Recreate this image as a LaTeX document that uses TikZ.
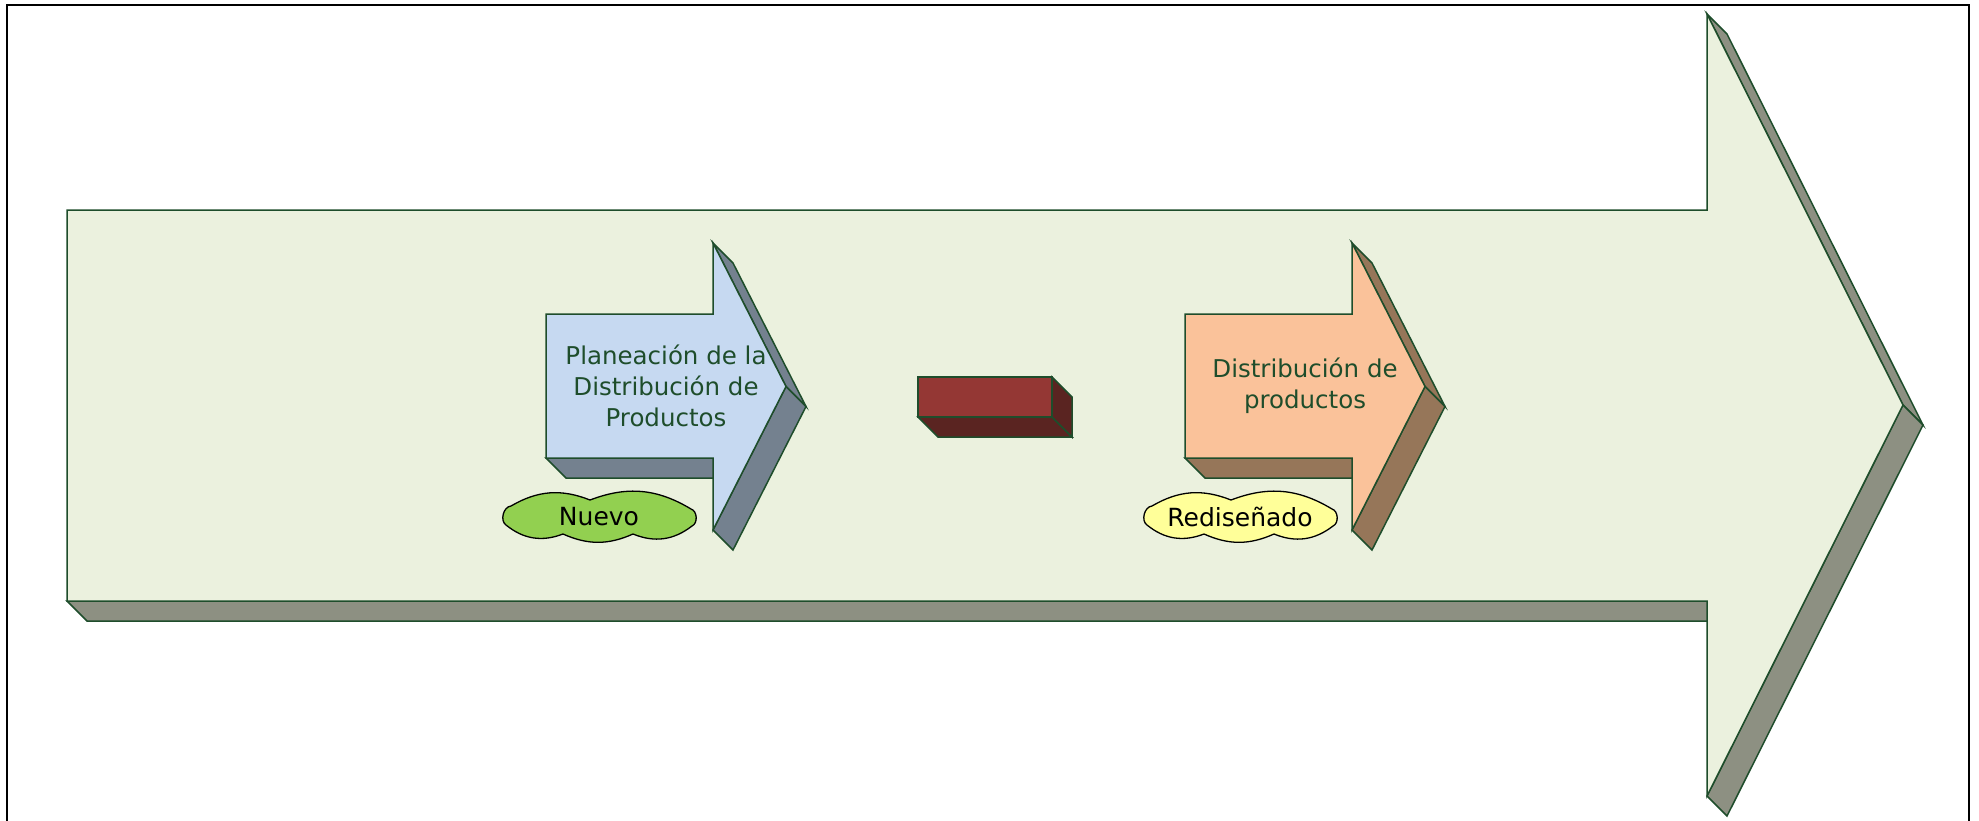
\documentclass[tikz,border=0pt]{standalone}
\usepackage{fontspec}
\setmainfont{DejaVu Sans}

\definecolor{edgegreen}{HTML}{1E4D2B}
\definecolor{bigfacecol}{HTML}{EBF1DE}
\definecolor{bigsidecol}{HTML}{8D9082}
\definecolor{bluefacecol}{HTML}{C6D9F1}
\definecolor{bluesidecol}{HTML}{74818F}
\definecolor{orangefacecol}{HTML}{FAC29A}
\definecolor{orangesidecol}{HTML}{967659}
\definecolor{brickfacecol}{HTML}{943734}
\definecolor{bricksidecol}{HTML}{5A2421}
\definecolor{cloudgreen}{HTML}{92D050}
\definecolor{cloudyellow}{HTML}{FFFF99}

\tikzset{
  outline/.style={draw=edgegreen, line width=1.5pt, line join=miter},
  bigfront/.style={outline, fill=bigfacecol},
  bigside/.style={outline, fill=bigsidecol},
  bluefront/.style={outline, fill=bluefacecol},
  blueside/.style={outline, fill=bluesidecol},
  orangefront/.style={outline, fill=orangefacecol},
  orangeside/.style={outline, fill=orangesidecol},
  brickfront/.style={outline, fill=brickfacecol},
  brickside/.style={outline, fill=bricksidecol},
  arrowtext/.style={align=center, text=edgegreen, inner sep=0pt,
    font=\fontsize{24.5}{31}\selectfont},
  cloudline/.style={draw=black, line width=1.3pt, line join=round},
  cloudtext/.style={inner sep=0pt, text=black,
    font=\fontsize{25}{30}\selectfont},
}

% Extruded block arrow, depth 20 towards lower right.
% #1 style prefix, #2 left, #3 shaft top, #4 head base x, #5 head top,
% #6 tip x, #7 tip y, #8 head bottom, #9 shaft bottom
\newcommand\blockarrow[9]{%
  \filldraw[#1side] (#4,#5) -- (#6,#7) -- (#6+20,#7+20) -- (#4+20,#5+20) -- cycle;
  \filldraw[#1side] (#6,#7) -- (#4,#8) -- (#4+20,#8+20) -- (#6+20,#7+20) -- cycle;
  \filldraw[#1side] (#4,#9) -- (#2,#9) -- (#2+20,#9+20) -- (#4+20,#9+20) -- cycle;
  \filldraw[#1front] (#2,#3) -- (#4,#3) -- (#4,#5) -- (#6,#7) -- (#4,#8)
    -- (#4,#9) -- (#2,#9) -- cycle;
}

% Flat cloud outline centred at (#1,#2), filled with colour #3
\newcommand\cloudoutline[3]{%
  \filldraw[cloudline, fill=#3, shift={(#1,#2)}]
    (92,-8) to[bend right=26] (-9,-17)
    to[bend right=26] (-88,-11)
    to[bend right=70] (-93,8)
    to[bend right=30] (-36,17)
    to[bend right=24] (34,17)
    to[bend right=30] (93,9)
    to[bend right=70] cycle;
}

\begin{document}
\begin{tikzpicture}[x=1pt, y=-1pt]
  \useasboundingbox (0,0) rectangle (1979,820);
  \fill[white] (0,0) rectangle (1979,820);

  % page frame, open at the bottom
  \draw[line width=2.5pt, black] (7,822) -- (7,5) -- (1969,5) -- (1969,822);

  % large background arrow
  \blockarrow{big}{67}{210}{1707}{14}{1903}{405}{796}{601}

  % first process arrow
  \blockarrow{blue}{546}{314}{713}{243}{786}{386.5}{530}{458}
  \node[arrowtext] (plan) at (666,386)
    {Planeación de la\\Distribución de\\Productos};

  % connecting block
  \filldraw[brickside] (918,417) -- (1052,417) -- (1072,437) -- (938,437) -- cycle;
  \filldraw[brickside] (1052,377) -- (1072,397) -- (1072,437) -- (1052,417) -- cycle;
  \filldraw[brickfront] (918,377) rectangle (1052,417);

  % second process arrow
  \blockarrow{orange}{1185}{314}{1352}{243}{1425}{386.5}{530}{458}
  \node[arrowtext] (dist) at (1305,386)
    {Distribución de\\productos};

  % status tags
  \cloudoutline{599}{517}{cloudgreen}
  \node[cloudtext] (nuevo) at (599,517) {Nuevo};
  \cloudoutline{1240}{517}{cloudyellow}
  \node[cloudtext] (redis) at (1240,517) {Rediseñado};
\end{tikzpicture}
\end{document}
